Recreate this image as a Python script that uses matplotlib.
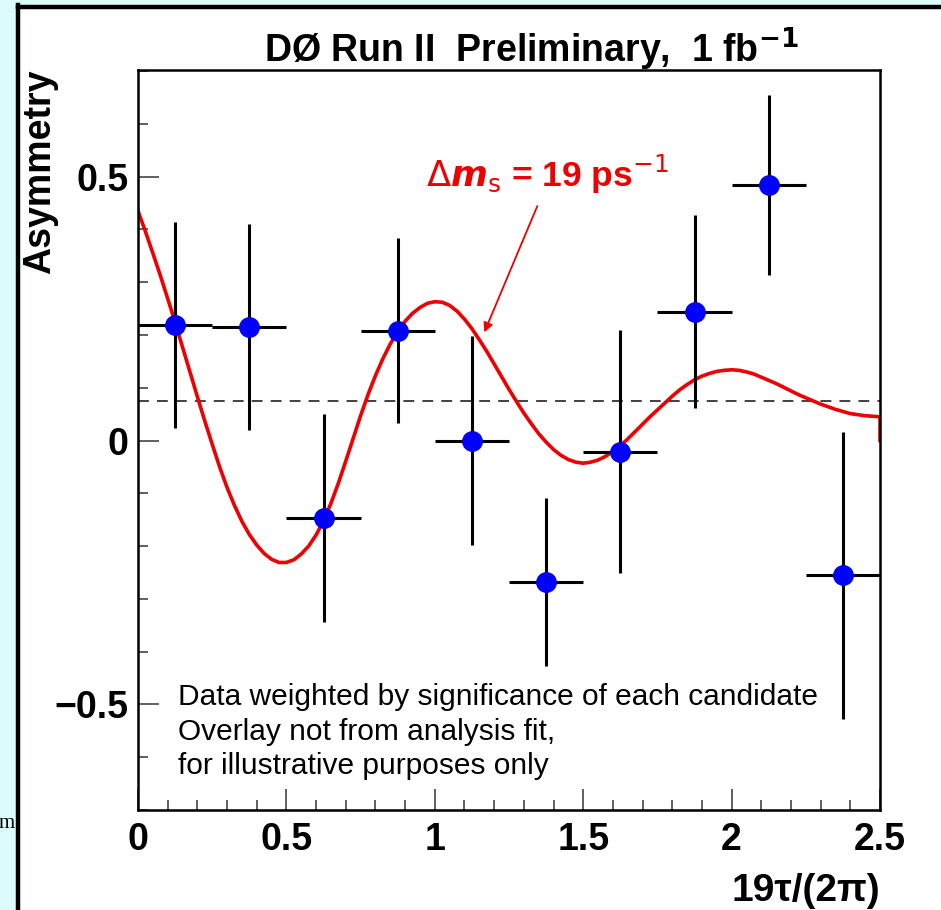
import matplotlib
matplotlib.use("Agg")
import matplotlib.pyplot as plt
from matplotlib.patches import Rectangle
from matplotlib.lines import Line2D
from matplotlib.ticker import MultipleLocator

plt.rcParams['font.family'] = ['Liberation Sans', 'DejaVu Sans']

# measured asymmetry per bin (bin width 0.25)
bin_centers = [0.125, 0.375, 0.625, 0.875, 1.125, 1.375, 1.625, 1.875, 2.125, 2.375]
asym = [0.219, 0.215, -0.147, 0.208, 0.000, -0.268, -0.021, 0.244, 0.484, -0.255]
asym_err = [0.195, 0.195, 0.197, 0.175, 0.198, 0.160, 0.230, 0.183, 0.171, 0.272]
bin_half = [0.125] * 10

# overlay curve
curve_x = [0.000, 0.025, 0.050, 0.075, 0.100, 0.125, 0.150, 0.175, 0.200, 0.225,
           0.250, 0.275, 0.300, 0.325, 0.350, 0.375, 0.400, 0.425, 0.450, 0.475,
           0.500, 0.525, 0.550, 0.575, 0.600, 0.625, 0.650, 0.675, 0.700, 0.725,
           0.750, 0.775, 0.800, 0.825, 0.850, 0.875, 0.900, 0.925, 0.950, 0.975,
           1.000, 1.025, 1.050, 1.075, 1.100, 1.125, 1.150, 1.175, 1.200, 1.225,
           1.250, 1.275, 1.300, 1.325, 1.350, 1.375, 1.400, 1.425, 1.450, 1.475,
           1.500, 1.525, 1.550, 1.575, 1.600, 1.625, 1.650, 1.675, 1.700, 1.725,
           1.750, 1.775, 1.800, 1.825, 1.850, 1.875, 1.900, 1.925, 1.950, 1.975,
           2.000, 2.025, 2.050, 2.075, 2.100, 2.125, 2.150, 2.175, 2.200, 2.225,
           2.250, 2.275, 2.300, 2.325, 2.350, 2.375, 2.400, 2.425, 2.450, 2.475,
           2.500, 2.500]
curve_y = [0.435, 0.396, 0.355, 0.313, 0.269, 0.224, 0.177, 0.130, 0.083, 0.037,
           -0.007, -0.050, -0.089, -0.123, -0.153, -0.178, -0.198, -0.214, -0.225, -0.231,
           -0.231, -0.226, -0.215, -0.200, -0.179, -0.152, -0.119, -0.081, -0.039, 0.004,
           0.047, 0.087, 0.123, 0.155, 0.183, 0.207, 0.226, 0.241, 0.252, 0.260,
           0.263, 0.262, 0.256, 0.245, 0.230, 0.212, 0.191, 0.169, 0.145, 0.121,
           0.097, 0.074, 0.052, 0.032, 0.013, -0.003, -0.017, -0.028, -0.036, -0.041,
           -0.043, -0.041, -0.037, -0.030, -0.021, -0.010, 0.003, 0.017, 0.031, 0.045,
           0.058, 0.071, 0.084, 0.096, 0.106, 0.115, 0.122, 0.127, 0.131, 0.133,
           0.134, 0.133, 0.130, 0.126, 0.120, 0.114, 0.108, 0.101, 0.094, 0.087,
           0.081, 0.075, 0.069, 0.064, 0.059, 0.055, 0.051, 0.049, 0.047, 0.046,
           0.045, 0.000]

mean_level = 0.074

W, H = 941, 910
fig = plt.figure(figsize=(W / 100, H / 100), dpi=100, facecolor='#dcfcfc')


def px(x, y):
    return x / W, 1 - y / H


# white page and black frame
fig.add_artist(Rectangle(px(18, H), (W - 18) / W, (H - 7) / H,
                         transform=fig.transFigure, facecolor='white', edgecolor='none', zorder=0))
fig.add_artist(Line2D([18 / W, 1], [1 - 6.5 / H, 1 - 6.5 / H], transform=fig.transFigure,
                      color='black', lw=3.2))
fig.add_artist(Line2D([18 / W, 18 / W], [0, 1 - 5 / H], transform=fig.transFigure,
                      color='black', lw=3.2))
fig.text(15 / W, 1 - 828 / H, 'm', family='Liberation Serif', fontsize=15,
         ha='right', va='baseline')

ax = fig.add_axes([138 / W, 100 / H, 742 / W, 740 / H])
ax.set_xlim(0, 2.5)
ax.set_ylim(-0.7, 0.702)

ax.axhline(mean_level, color='#333333', lw=1.3, ls=(0, (6, 4.5)), zorder=1)
ax.plot(curve_x, curve_y, color='#ee0000', lw=2.6, zorder=2)
ax.errorbar(bin_centers, asym, yerr=asym_err, xerr=bin_half, fmt='o', color='black',
            ecolor='black', elinewidth=2.2, capsize=0, markersize=14,
            markerfacecolor='#0000ff', markeredgecolor='#0000ff', zorder=3)

ax.xaxis.set_major_locator(MultipleLocator(0.5))
ax.xaxis.set_minor_locator(MultipleLocator(0.1))
ax.yaxis.set_major_locator(MultipleLocator(0.5))
ax.yaxis.set_minor_locator(MultipleLocator(0.1))
ax.set_xticks([0, 0.5, 1, 1.5, 2, 2.5])
ax.set_xticklabels(['0', '0.5', '1', '1.5', '2', '2.5'])
ax.set_yticks([-0.5, 0, 0.5])
ax.set_yticklabels(['\u22120.5', '0', '0.5'])
ax.tick_params(which='both', direction='in', top=False, right=False, color='#444444')
ax.tick_params(which='major', length=15, width=1.2, labelsize=27)
ax.tick_params(which='minor', length=7, width=1.2)
ax.tick_params(axis='x', which='major', pad=9)
ax.tick_params(axis='y', which='major', pad=7)
for lab in ax.get_xticklabels() + ax.get_yticklabels():
    lab.set_fontweight('bold')
for s in ax.spines.values():
    s.set_linewidth(1.8)

fig.text(531 / W, 1 - 62 / H, 'DØ Run II  Preliminary,  1 fb$^{\\mathbf{-1}}$',
         fontsize=27, fontweight='bold', ha='center', va='baseline')
fig.text(40 / W, 1 - 70 / H, 'Asymmetry', rotation=90, fontsize=27, fontweight='bold',
         ha='center', va='top')
fig.text(880 / W, 1 - 901 / H, '19τ/(2π)', fontsize=28, fontweight='bold',
         ha='right', va='baseline')

ax.text(1.378, 0.480, r'$\Delta\boldsymbol{m}_{\rm s}$ = 19 ps$^{-1}$', color='#ee0000',
        fontsize=25.5, fontweight='bold', ha='center', va='baseline')
ax.annotate('', xy=(1.163, 0.200), xytext=(1.349, 0.449),
            arrowprops=dict(arrowstyle='-|>', color='#ee0000', lw=1.3,
                            mutation_scale=14))

ax.text(0.135, -0.552, 'Data weighted by significance of each candidate\n'
        'Overlay not from analysis fit,\nfor illustrative purposes only',
        fontsize=21.5, ha='left', va='center', linespacing=1.3)

fig.savefig('out.png', dpi=100, facecolor=fig.get_facecolor())
